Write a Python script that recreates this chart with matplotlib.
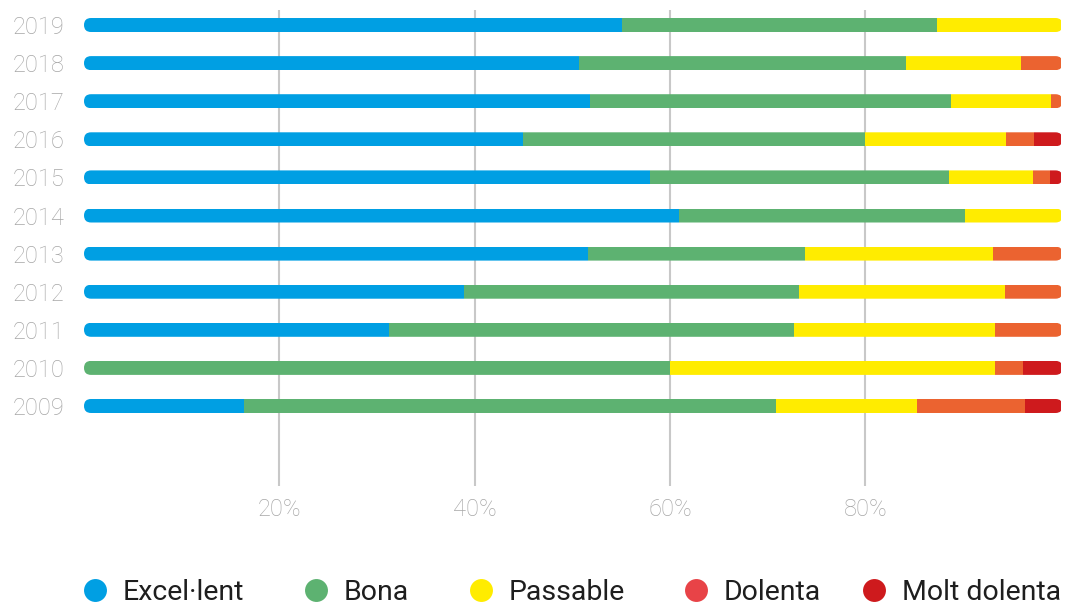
import matplotlib
matplotlib.use("Agg")
import matplotlib.pyplot as plt
from matplotlib.patches import FancyBboxPatch
from matplotlib.lines import Line2D
import numpy as np

years = ["2009", "2010", "2011", "2012", "2013", "2014", "2015", "2016", "2017", "2018", "2019"]
categories = ["Excel·lent", "Bona", "Passable", "Dolenta", "Molt dolenta"]
excellent = [16.4, 0.0, 31.2, 38.9, 51.6, 60.9, 58.0, 45.0, 51.8, 50.7, 55.1]
bona = [54.5, 60.0, 41.5, 34.3, 22.2, 29.3, 30.6, 35.0, 37.0, 33.5, 32.2]
passable = [14.4, 33.3, 20.6, 21.1, 19.3, 9.8, 8.6, 14.4, 10.2, 11.7, 12.7]
dolenta = [11.1, 2.9, 6.7, 5.7, 6.9, 0.0, 1.7, 2.9, 1.0, 4.1, 0.0]
molt_dolenta = [3.6, 3.8, 0.0, 0.0, 0.0, 0.0, 1.1, 2.7, 0.0, 0.0, 0.0]
xticks = [20, 40, 60, 80]
xtick_labels = ["20%", "40%", "60%", "80%"]

bar_colors = ["#009FE3", "#5DB271", "#FFEC00", "#EB6330", "#CE1A1D"]
legend_colors = ["#009FE3", "#5DB271", "#FFEC00", "#E84347", "#CE1A1D"]

plt.rcParams['font.family'] = ['Roboto', 'DejaVu Sans']

W, H = 1066, 604
fig = plt.figure(figsize=(W / 100, H / 100), dpi=100)
ax = fig.add_axes([84 / W, 1 - 486 / H, (1060.6 - 84) / W, (486 - 10) / H])

ypos = np.arange(len(years))
ax.set_xlim(0, 100)
ax.set_ylim(-2.1, len(years) - 1 + 0.394)

bar_h = 14 / 38.1
series = [excellent, bona, passable, dolenta, molt_dolenta]
totals = np.sum(np.array(series), axis=0)

# aspect for rounded ends
p0 = ax.transData.transform((0, 0))
p1 = ax.transData.transform((1, 1))
px_per_x = p1[0] - p0[0]
px_per_y = p1[1] - p0[1]
aspect = px_per_x / px_per_y

clips = []
for i, y in enumerate(ypos):
    r = (bar_h / aspect) / 2
    patch = FancyBboxPatch((0, y - bar_h / 2), totals[i] + 0.2, bar_h,
                           boxstyle=f"round,pad=0,rounding_size={r}",
                           mutation_aspect=aspect,
                           transform=ax.transData,
                           facecolor='none', edgecolor='none')
    ax.add_patch(patch)
    clips.append(patch)

left = np.zeros(len(years))
for vals, col in zip(series, bar_colors):
    widths = np.array(vals, dtype=float)
    bars = ax.barh(ypos, widths, left=left, height=bar_h, color=col,
                   edgecolor='none', linewidth=0, zorder=2)
    for i, b in enumerate(bars):
        b.set_clip_path(clips[i])
    left = left + widths
# extend last non-empty segment slightly to reach the rounded end
for i in range(len(years)):
    for k in range(len(series) - 1, -1, -1):
        if series[k][i] > 0:
            ax.barh(ypos[i], 0.2, left=totals[i], height=bar_h, color=bar_colors[k],
                    edgecolor='none', linewidth=0, zorder=2).patches[0].set_clip_path(clips[i])
            break

ax.set_yticks(ypos)
ax.set_yticklabels(years)
ax.set_xticks(xticks)
ax.set_xticklabels(xtick_labels)
ax.grid(axis='x', color='#C8C8C8', linewidth=1.5)
ax.grid(axis='y', visible=False)
ax.set_axisbelow(True)
for s in ax.spines.values():
    s.set_visible(False)
ax.tick_params(axis='y', length=0, pad=14, labelsize=17, labelcolor='#A6A6A6')
ax.tick_params(axis='x', length=0, pad=9, labelsize=17, labelcolor='#A6A6A6')
for lab in ax.get_yticklabels() + ax.get_xticklabels():
    lab.set_fontweight('light')

# legend items positioned individually
fs = 20.5
fs_px = fs * 100 / 72
circle_centers = [95, 316, 480.5, 696, 874]
for lab, col, cx in zip(categories, legend_colors, circle_centers):
    h = Line2D([], [], linestyle='none', marker='o', markersize=16.5,
               markerfacecolor=col, markeredgecolor='none')
    leg = fig.legend([h], [lab], loc='center left',
                     bbox_to_anchor=((cx - fs_px * 0.5) / W, 1 - 592 / H),
                     frameon=False, handlelength=1.0, handletextpad=0.48,
                     borderpad=0, borderaxespad=0,
                     prop={'size': fs, 'weight': 'normal'})
    for t in leg.get_texts():
        t.set_color('#1E1E1E')

fig.savefig("out.png", dpi=100)
